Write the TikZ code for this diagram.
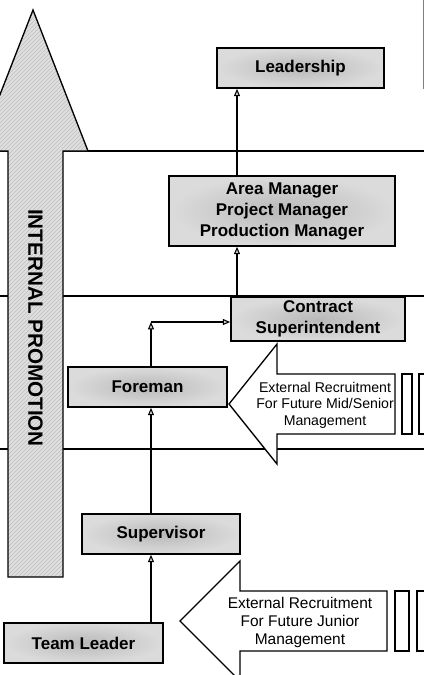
\documentclass[tikz,border=0pt]{standalone}
\usepackage{fontspec}
\setmainfont{Liberation Sans}
\usetikzlibrary{positioning, arrows.meta, patterns}

\begin{document}
\begin{tikzpicture}[
    x=0.75pt, y=-0.75pt,
    >={Triangle[length=5.5pt, width=4.5pt, fill=gray!35]},
    thick,
    rank/.style={rectangle, draw, line width=1.2pt, inner color=gray!55, outer color=gray!28, font=\fontsize{12.75}{15.75}\selectfont\bfseries, align=center, inner sep=0pt},
    recruit/.style={draw, line width=1pt, fill=white},
    promo/.style={draw, line width=1pt, preaction={fill=gray!25}, pattern=north east lines, pattern color=gray!50},
    sep/.style={line width=1.2pt}
]
    \clip (0,0) rectangle (424,675);

    % --- Faixas (linhas de separação) ---
    \draw[sep] (0,151) -- (424,151);
    \draw[sep] (0,296) -- (424,296);
    \draw[sep] (0,449) -- (424,449);

    % caixa cortada na margem direita
    \draw[line width=0.6pt, gray] (423,-10) rectangle (470,88);

    % --- Seta de promoção interna ---
    \draw[promo] (33,10) -- (88,151) -- (63,151) -- (63,577) -- (8,577) -- (8,151) -- (-22,151) -- cycle;
    \node[rotate=-90, font=\fontsize{15.5}{18}\selectfont\bfseries] (promotion) at (35.5,328) {INTERNAL PROMOTION};

    % --- Recrutamento externo ---
    % Média/alta gerência
    \draw[recruit] (229,404) -- (277,344) -- (277,374) -- (395,374) -- (395,434) -- (277,434) -- (277,464) -- cycle;
    \draw[recruit] (402,374) rectangle (412,434);
    \draw[recruit] (419,374) rectangle (470,434);
    \node[align=center, font=\fontsize{10.6}{12.4}\selectfont] (extmid) at (325,405) {External Recruitment\\For Future Mid/Senior\\Management};

    % Gerência júnior
    \draw[recruit] (180,621) -- (240,561) -- (240,591) -- (387,591) -- (387,651) -- (240,651) -- (240,681) -- cycle;
    \draw[recruit] (395,591) rectangle (409,651);
    \draw[recruit] (417,591) rectangle (470,651);
    \node[align=center, font=\fontsize{11.6}{13.5}\selectfont] (extjunior) at (300,622) {External Recruitment\\For Future Junior\\Management};

    % --- Cargos ---
    \node[rank, minimum width=125.25pt, minimum height=30pt] (leadership) at (300.5,68) {Leadership};
    \node[rank, minimum width=169.5pt, minimum height=52.5pt] (manager) at (282,211) {Area Manager\\Project Manager\\Production Manager};
    \node[rank, minimum width=130.5pt, minimum height=33pt] (contract) at (318,319) {Contract\\Superintendent};
    \node[rank, minimum width=119.25pt, minimum height=30pt] (foreman) at (147.5,387) {Foreman};
    \node[rank, minimum width=118.5pt, minimum height=30pt] (supervisor) at (161,534) {Supervisor};
    \node[rank, minimum width=119.25pt, minimum height=30pt] (leader) at (83.5,643) {Team Leader};

    % --- Conexões ---
    \coordinate (spine) at (151,0);
    \coordinate (upper) at (237,0);
    \coordinate (corner) at (151,322);

    \draw[->] (leader.north -| spine) -- (supervisor.south -| spine);
    \draw[->] (supervisor.north -| spine) -- (foreman.south -| spine);
    \draw[->] (foreman.north -| spine) -- (corner);
    \draw[->] (corner) -- (corner -| contract.west);
    \draw[->] (contract.north -| upper) -- (manager.south -| upper);
    \draw[->] (manager.north -| upper) -- (leadership.south -| upper);

\end{tikzpicture}
\end{document}
